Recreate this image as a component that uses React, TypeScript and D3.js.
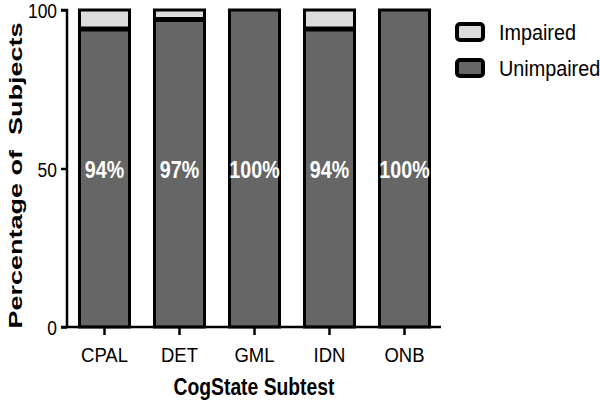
import React, { useRef, useEffect } from "react";
import * as d3 from "d3";

// CogState subtests and percentage of subjects
const subtests = ["CPAL", "DET", "GML", "IDN", "ONB"];
const unimpaired = [94, 97, 100, 94, 100];
const impaired = [6, 3, 0, 6, 0];
const pctLabels = ["94%", "97%", "100%", "94%", "100%"];
const yTicks = [0, 50, 100];
const legendItems = ["Impaired", "Unimpaired"];

const App = () => {
  const svgRef = useRef<SVGSVGElement>(null);

  useEffect(() => {
    const svg = d3.select(svgRef.current);
    svg.selectAll("*").remove();

    const font = "'Liberation Sans', Arial, sans-serif";
    const colors = { Impaired: "#dcdcdc", Unimpaired: "#666666" };
    const sx = 0.86; // the original's type is a bit narrow

    const x = d3.scaleBand().domain(subtests).range([66, 443]).paddingInner(1 / 3).paddingOuter(0.18);
    const y = d3.scaleLinear().domain([0, 100]).range([327, 10]);

    // narrow text helper
    const label = (px, py, txt, size, bold, anchor, fill = "#000", scale = sx) =>
      svg.append("text")
        .attr("transform", `translate(${px},${py}) scale(${scale},1)`)
        .attr("text-anchor", anchor)
        .attr("fill", fill)
        .style("font-family", font)
        .style("font-weight", bold ? "bold" : "normal")
        .style("font-size", size + "px")
        .text(txt);

    const g = svg.append("g");

    // stacked bars
    const rows = subtests.map((s, i) => ({ s, un: unimpaired[i], im: impaired[i] }));
    rows.forEach((d, i) => {
      const bx = x(d.s)!;
      const bw = x.bandwidth();
      g.append("rect")
        .attr("x", bx)
        .attr("y", y(d.un))
        .attr("width", bw)
        .attr("height", y(0) - y(d.un))
        .attr("fill", colors.Unimpaired)
        .attr("stroke", "#000")
        .attr("stroke-width", 3);
      if (d.im > 0) {
        g.append("rect")
          .attr("x", bx)
          .attr("y", y(d.un + d.im))
          .attr("width", bw)
          .attr("height", y(d.un) - y(d.un + d.im))
          .attr("fill", colors.Impaired)
          .attr("stroke", "#000")
          .attr("stroke-width", 3);
        g.append("line")
          .attr("x1", bx)
          .attr("x2", bx + bw)
          .attr("y1", y(d.un))
          .attr("y2", y(d.un))
          .attr("stroke", "#000")
          .attr("stroke-width", 5);
      }
      label(bx + bw / 2, y(50) + 9, pctLabels[i], 24, true, "middle", "#fff", 0.82);
    });

    // y axis
    const yAxis = g
      .append("g")
      .attr("transform", "translate(67,0)")
      .call(d3.axisLeft(y).tickValues(yTicks).tickSize(6).tickPadding(4));
    yAxis.select(".domain").attr("stroke", "#000").attr("stroke-width", 2.5).attr("d", `M-6,${y(100)}H0V${y(0)}`);
    yAxis.selectAll(".tick line").attr("stroke", "#000").attr("stroke-width", 2.5);
    yAxis.selectAll(".tick text")
      .attr("transform", `translate(-10,1) scale(0.83,1)`)
      .attr("x", 0)
      .style("font-family", font)
      .style("font-size", "21px")
      .attr("fill", "#000");

    // x axis
    const xAxis = g
      .append("g")
      .attr("transform", `translate(0,${y(0)})`)
      .call(d3.axisBottom(x).tickSize(8).tickPadding(12));
    xAxis.select(".domain").attr("stroke", "#000").attr("stroke-width", 2.5).attr("d", `M61,0H441`);
    xAxis.selectAll(".tick line").attr("stroke", "#000").attr("stroke-width", 2.5);
    xAxis.selectAll(".tick text")
      .attr("transform", `scale(0.88,1)`)
      .style("font-family", font)
      .style("font-size", "21px")
      .attr("fill", "#000");

    // axis titles
    label(254, 395, "CogState Subtest", 23, true, "middle", "#000", 0.84);

    svg.append("text")
      .attr("transform", `translate(22,${(21 + 330) / 2}) rotate(-90) scale(1,0.68)`)
      .attr("text-anchor", "middle")
      .attr("xml:space", "preserve")
      .style("white-space", "pre")
      .style("font-family", font)
      .style("font-weight", "bold")
      .style("font-size", "27px")
      .text("Percentage of  Subjects");

    // legend
    legendItems.forEach((name, i) => {
      const ly = 24 + i * 36;
      svg.append("rect")
        .attr("x", 457)
        .attr("y", ly)
        .attr("width", 26)
        .attr("height", 16)
        .attr("rx", 3)
        .attr("fill", colors[name as keyof typeof colors])
        .attr("stroke", "#000")
        .attr("stroke-width", 4);
      label(499, ly + 16, name, 22, false, "start", "#000", 0.9);
    });
  }, []);

  return (
    <svg
      ref={svgRef}
      width={600}
      height={403}
      style={{ position: "absolute", left: 0, top: 0, background: "#fff" }}
    />
  );
};

export default App;
